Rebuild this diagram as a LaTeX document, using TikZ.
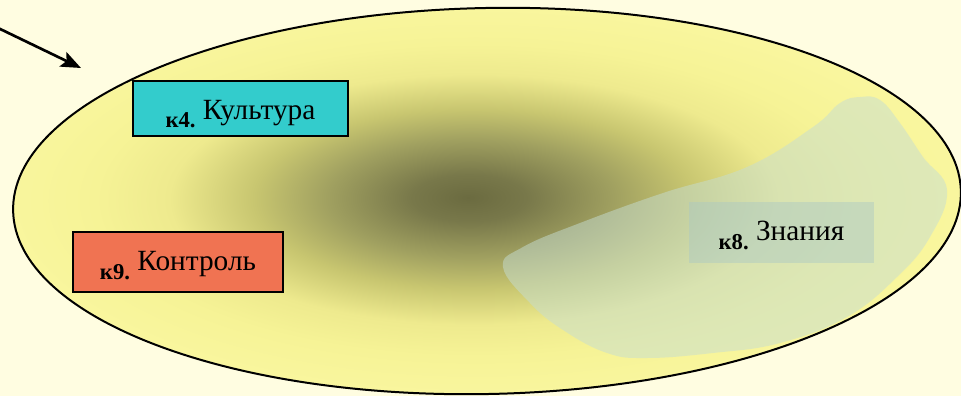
\documentclass[tikz,border=0pt]{standalone}
\usepackage{fontspec}
\setmainfont{Liberation Serif}
\usetikzlibrary{arrows.meta}
\definecolor{bgcream}{HTML}{FFFDE1}
\definecolor{olivecore}{HTML}{6B6B40}
\definecolor{olivedeep}{HTML}{78784A}
\definecolor{olivemid}{HTML}{A0A060}
\definecolor{olivelight}{HTML}{C8C670}
\definecolor{fieldyellow}{HTML}{EEEA8E}
\definecolor{fieldpale}{HTML}{F6F396}
\definecolor{fieldedge}{HTML}{F9F69E}
\definecolor{kcyan}{HTML}{33CCCC}
\definecolor{kred}{HTML}{F07352}
\definecolor{blobteal}{RGB}{197,221,211}
\definecolor{boxteal}{RGB}{170,200,196}
\pgfdeclareradialshading{fieldshade}{\pgfpoint{-1bp}{0.8bp}}{color(0bp)=(olivecore); color(3bp)=(olivedeep); color(7.5bp)=(olivemid); color(11.5bp)=(olivelight); color(16bp)=(fieldyellow); color(20bp)=(fieldpale); color(25bp)=(fieldedge); color(50bp)=(fieldedge)}
\newcommand\klbl[1]{\raisebox{-6.5pt}{\fontsize{17}{17}\selectfont\bfseries #1}}
\begin{document}
\begin{tikzpicture}[x=0.75pt, y=-0.75pt,
    kbox/.style={draw=black, line width=1.2pt, inner sep=0pt, minimum height=45pt,
        text height=16pt, text depth=3.5pt, font=\fontsize{22}{24}\selectfont}]
    \fill[bgcream] (0,0) rectangle (961,396);
    \useasboundingbox (0,0) rectangle (961,396);
    % field
    \shade[shading=fieldshade] (487,201) ellipse [x radius=474, y radius=193, rotate=1.2];
    \fill[blobteal, fill opacity=0.5] plot[smooth cycle, tension=0.7] coordinates {(503,267) (523,247) (580,223) (663,193) (747,167) (813,127) (840,103) (860,97) (880,100) (900,123) (923,157) (947,190) (930,237) (897,277) (847,317) (780,343) (713,353) (647,358) (607,353) (563,330) (530,303)};
    \draw[line width=1.5pt] (487,201) ellipse [x radius=474, y radius=193, rotate=1.2];
    % boxes
    \node[kbox, fill=kcyan, minimum width=161pt, minimum height=41.25pt, text height=18pt, text depth=2.25pt] (kultura) at (240.5,108.5) {\klbl{к4.} Культура};
    \node[kbox, fill=kred, minimum width=157.5pt] (kontrol) at (178,262) {\klbl{к9.} Контроль};
    \node[kbox, draw=none, fill=boxteal, fill opacity=0.45, text opacity=1, minimum width=139pt, minimum height=45.75pt] (znaniya) at (781.5,232.5) {\klbl{к8.} Знания};
    % arrow
    \coordinate (arrtail) at (-4,27);
    \coordinate (arrhead) at (81,68);
    \draw[line width=2pt, -{Stealth[length=15pt, width=12pt, inset=3pt]}] (arrtail) -- (arrhead);
\end{tikzpicture}
\end{document}
